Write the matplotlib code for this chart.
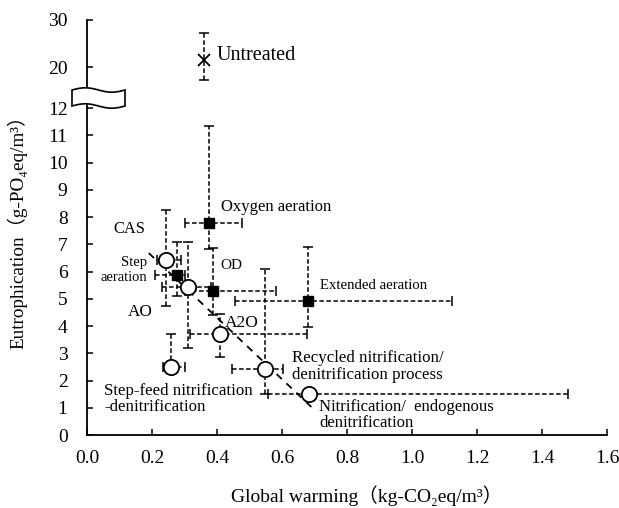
import numpy as np
import matplotlib
matplotlib.use('Agg')
from matplotlib import pyplot as plt
from matplotlib.patches import Polygon
from matplotlib.scale import FuncScale

plt.rcParams['font.family'] = ['Liberation Serif', 'DejaVu Serif', 'Noto Sans CJK JP']

# open circles: processes with nitrogen removal
circ_names = ['CAS', 'AO', 'A2O', 'Step-feed', 'Recycled', 'Nitrif-endo']
circ_x = [0.243, 0.311, 0.409, 0.257, 0.548, 0.684]
circ_y = [6.43, 5.43, 3.71, 2.48, 2.41, 1.51]
circ_xlo = [0.215, 0.230, 0.317, 0.235, 0.445, 0.558]
circ_xhi = [0.290, 0.380, 0.676, 0.300, 0.604, 1.479]
circ_ylo = [4.72, 3.20, 2.88, 2.48, 1.50, 1.51]
circ_yhi = [8.25, 7.07, 4.45, 3.70, 6.09, 1.51]

# filled squares
sq_names = ['Step aeration', 'OD', 'Oxygen aeration', 'Extended aeration']
sq_x = [0.278, 0.389, 0.376, 0.681]
sq_y = [5.88, 5.27, 7.78, 4.93]
sq_xlo = [0.209, 0.300, 0.300, 0.455]
sq_xhi = [0.300, 0.580, 0.476, 1.124]
sq_ylo = [5.10, 4.40, 6.83, 3.98]
sq_yhi = [7.07, 6.86, 11.36, 6.92]

# untreated
un_x = [0.36]
un_y = [21.5]
un_ylo = [17.2]
un_yhi = [27.2]

# dashed trend line
trend_x = [0.19, 0.70]
trend_y = [6.68, 0.92]

yticks = [0, 1, 2, 3, 4, 5, 6, 7, 8, 9, 10, 11, 12, 20, 30]
xticks = [0.0, 0.2, 0.4, 0.6, 0.8, 1.0, 1.2, 1.4, 1.6]


# broken y axis: 0-12 linear, gap, 16.2-30 compressed
def fwd(y):
    y = np.asarray(y, dtype=float)
    return np.where(y <= 12, y,
                    np.where(y < 16.2, 12 + (y - 12) / 4.2 * 0.85,
                             12.85 + (y - 16.2) * 0.173))


def inv(v):
    v = np.asarray(v, dtype=float)
    return np.where(v <= 12, v,
                    np.where(v < 12.85, 12 + (v - 12) / 0.85 * 4.2,
                             16.2 + (v - 12.85) / 0.173))


fig = plt.figure(figsize=(6.19, 5.08), dpi=100)
ax = fig.add_axes([87 / 619, 73 / 508, 520 / 619, 415 / 508])
ax.set_yscale(FuncScale(ax, (fwd, inv)))
ax.set_xlim(0, 1.6)
ax.set_ylim(0, 30)

dash = (0, (3, 1.6))


def err(x, y, xlo, xhi, ylo, yhi):
    x = np.array(x); y = np.array(y)
    xe = None if xlo is None else [x - np.array(xlo), np.array(xhi) - x]
    ye = [y - np.array(ylo), np.array(yhi) - y]
    eb = ax.errorbar(x, y, xerr=xe, yerr=ye, fmt='none', ecolor='black',
                     elinewidth=1.1, capsize=3.5, capthick=1.1, zorder=2)
    for lc in eb[2]:
        lc.set_linestyle(dash)


err(circ_x, circ_y, circ_xlo, circ_xhi, circ_ylo, circ_yhi)
err(sq_x, sq_y, sq_xlo, sq_xhi, sq_ylo, sq_yhi)
err(un_x, un_y, None, None, un_ylo, un_yhi)

ax.plot(trend_x, trend_y, color='black', lw=1.3, ls=(0, (4, 3.5)), zorder=3)

ax.plot(circ_x, circ_y, 'o', ms=11, mfc='white', mec='black', mew=1.3, zorder=4)
ax.plot(sq_x, sq_y, 's', ms=6.5, mfc='black', mec='black', zorder=4)
ax.plot(un_x, un_y, 'x', ms=9, mec='black', mew=1.3, zorder=4)

# labels
ax.text(0.40, 22.5, 'Untreated', fontsize=14.5, va='center', ha='left')
ax.text(0.412, 8.38, 'Oxygen aeration', fontsize=12, va='center', ha='left')
ax.text(0.08, 7.57, 'CAS', fontsize=11.8, va='center', ha='left')
ax.text(0.185, 6.05, 'Step\naeration', fontsize=10.5, va='center', ha='right',
        multialignment='right', linespacing=1.25)
ax.text(0.41, 6.21, 'OD', fontsize=11, va='center', ha='left')
ax.text(0.127, 4.53, 'AO', fontsize=12.3, va='center', ha='left')
ax.text(0.425, 4.1, 'A2O', fontsize=12.5, va='center', ha='left')
ax.text(0.717, 5.48, 'Extended aeration', fontsize=10.6, va='center', ha='left')
ax.text(0.63, 2.52, 'Recycled nitrification/\ndenitrification process',
        fontsize=12.2, va='center', ha='left', linespacing=1.05)
ax.text(0.714, 0.74, 'Nitrification/  endogenous\ndenitrification',
        fontsize=12, va='center', ha='left', linespacing=1.0)
ax.text(0.052, 1.32, 'Step-feed nitrification\n-denitrification',
        fontsize=12.2, va='center', ha='left', linespacing=1.05)

# axes styling
for s in ['top', 'right']:
    ax.spines[s].set_visible(False)
for s in ['left', 'bottom']:
    ax.spines[s].set_linewidth(1.3)
ax.set_xticks(xticks)
ax.set_xticklabels(['%.1f' % v for v in xticks])
ax.set_yticks(yticks)
ax.set_yticklabels([str(v) for v in yticks])
ax.tick_params(direction='in', length=4, width=1.1, labelsize=14)
ax.tick_params(axis='x', pad=11)
ax.tick_params(axis='y', pad=14)
ax.minorticks_off()

ax.set_ylabel('Eutrophication（g-PO₄eq/m³）', fontsize=13.8)
ax.yaxis.set_label_coords(-0.115, 0.5)
ax.set_xlabel('Global warming（kg-CO₂eq/m³）', fontsize=14)
ax.xaxis.set_label_coords(0.537, -0.122)

# wavy break symbol on the y axis
t = np.linspace(0, 1, 40)
bx0, bx1 = (72 - 87) / 520, (125 - 87) / 520
top_y = (435 - 90) / 415 + 2.2 / 415 * np.sin(2 * np.pi * t)
bot_y = (435 - 106) / 415 + 2.2 / 415 * np.sin(2 * np.pi * t)
xs = bx0 + (bx1 - bx0) * t
verts = np.vstack([np.column_stack([xs, top_y]),
                   np.column_stack([xs[::-1], bot_y[::-1]])])
ax.add_patch(Polygon(verts, closed=True, facecolor='white', edgecolor='black',
                     lw=1.2, transform=ax.transAxes, clip_on=False, zorder=10))

fig.savefig('out.png', dpi=100)
